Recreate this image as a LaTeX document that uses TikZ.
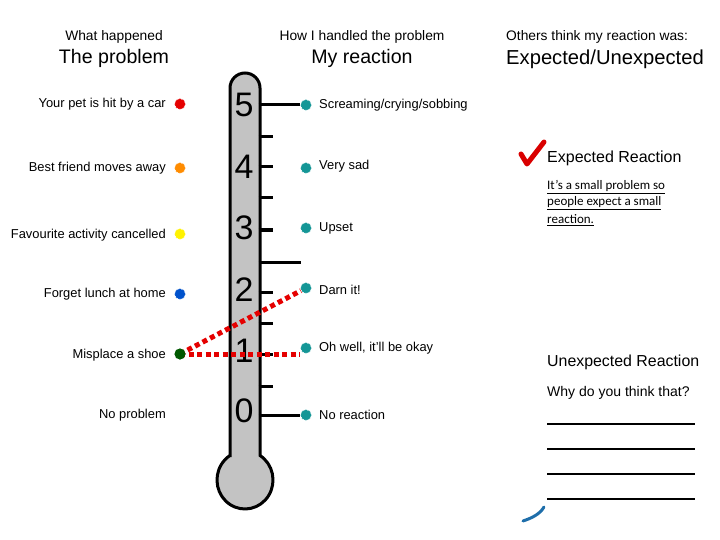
\documentclass[tikz,border=0pt]{standalone}
\usepackage{fontspec}
\setmainfont{Liberation Sans}
\newfontfamily\calib{Carlito}
\begin{document}
\begin{tikzpicture}[x=1pt,y=-1pt,
  lbl/.style={inner sep=0pt,font=\fontsize{12.9}{15}\selectfont},
  hsmall/.style={inner sep=0pt,font=\fontsize{13.8}{16}\selectfont},
  hbig/.style={inner sep=0pt,font=\fontsize{19.6}{22}\selectfont},
  num/.style={inner sep=0pt,font=\fontsize{34}{37}\selectfont},
  pdot/.style={circle,inner sep=0pt,minimum size=11pt,draw=white,line width=0.6pt,densely dotted},
  tick/.style={line width=3pt},
  reddots/.style={draw=red!90!black,line width=5pt,dash pattern=on 5pt off 3.5pt},
  wline/.style={line width=1.2pt}]
\useasboundingbox (0,0) rectangle (720,540);
\definecolor{tealdot}{RGB}{20,150,150}
\definecolor{greydark}{RGB}{195,195,195}
\tikzset{tdot/.style={pdot,fill=tealdot}}
% headers
\node[hsmall] (h1) at (114,37) {What happened};
\node[hbig] (h2) at (114,58) {The problem};
\node[hsmall] (h3) at (362,37) {How I handled the problem};
\node[hbig] (h4) at (362,58) {My reaction};
\node[hsmall,anchor=west] (h5) at (506,37) {Others think my reaction was:};
\node[hbig,anchor=west,font=\fontsize{20.2}{23}\selectfont] (h6) at (506,59) {Expected/Unexpected};
% thermometer
\draw[line width=3pt,fill=greydark] (230,455.5) -- (230,88)
  arc[start angle=180,end angle=360,radius=15] -- (260,455.5)
  arc[start angle=-57.6,end angle=237.6,x radius=28,y radius=29] -- cycle;
% ticks
\foreach \y/\l in {137/273,167/273,198/273,230/273,262/301,292/273,323/273,354/273,386/273}
  \draw[tick] (258.5,\y) -- (\l,\y);
% numerals
\node[num] (n5) at (244,105) {5};
\node[num] (n4) at (244,167) {4};
\node[num] (n3) at (244,228) {3};
\node[num] (n2) at (244,290) {2};
\node[num] (n1) at (244,351) {1};
\node[num] (n0) at (244,411) {0};
\coordinate (t5) at (258.5,105);
\coordinate (t0) at (258.5,415);
% problem labels and dots
\node[lbl,anchor=east] (a5) at (166,104.5) {Your pet is hit by a car};
\node[lbl,anchor=east] (a4) at (166,168.5) {Best friend moves away};
\node[lbl,anchor=east] (a3) at (166,235.5) {Favourite activity cancelled};
\node[lbl,anchor=east] (a2) at (166,294.5) {Forget lunch at home};
\node[lbl,anchor=east] (a1) at (166,355.5) {Misplace a shoe};
\node[lbl,anchor=east] (a0) at (166,415.5) {No problem};
\node[pdot,fill=red!90!black] (p5) at (180,104) {};
\node[pdot,fill=orange!90!yellow] (p4) at (180,168) {};
\node[pdot,fill=yellow] (p3) at (180,234) {};
\node[pdot,fill=blue!60!cyan!80!black] (p2) at (180,294) {};
\node[pdot,fill=green!35!black] (p1) at (180,354) {};
% reaction dots and labels
\node[tdot] (r5) at (306,105) {};
\node[tdot] (r4) at (306,168) {};
\node[tdot] (r3) at (306,228) {};
\node[tdot] (r2) at (306,288) {};
\node[tdot] (r1) at (306,348) {};
\node[tdot] (r0) at (306,415) {};
\draw[tick] (t5) -- (r5);
\draw[tick] (t0) -- (r0);
\node[lbl,anchor=west] (b5) at (319,105.5) {Screaming/crying/sobbing};
\node[lbl,anchor=west] (b4) at (319,166.5) {Very sad};
\node[lbl,anchor=west] (b3) at (319,228.5) {Upset};
\node[lbl,anchor=west] (b2) at (319,289.5) {Darn it!};
\node[lbl,anchor=west] (b1) at (319,348.5) {Oh well, it'll be okay};
\node[lbl,anchor=west] (b0) at (319,414.5) {No reaction};
% red dotted connectors
\coordinate (e1) at (300,354);
\draw[reddots] (p1.center) -- (r2);
\draw[reddots] (p1.center) -- (e1);
\node[pdot,fill=green!35!black,draw=none] (p1b) at (180,354) {};
% right column
\draw[red!85!black,line width=5pt,line cap=round,line join=round] (521,154) -- (527,164) -- (544,142);
\node[lbl,anchor=west,font=\fontsize{16}{18}\selectfont] (c1) at (547,158) {Expected Reaction};
\node[inner sep=0pt,anchor=west,font=\calib\fontsize{13}{15}\selectfont] (c2) at (547,187) {\underline{It’s a small problem so}};
\node[inner sep=0pt,anchor=west,font=\calib\fontsize{13}{15}\selectfont] (c3) at (547,203) {\underline{people expect a small}};
\node[inner sep=0pt,anchor=west,font=\calib\fontsize{13}{15}\selectfont] (c4) at (547,220) {\underline{reaction.}};
\node[lbl,anchor=west,font=\fontsize{15.9}{18}\selectfont] (c5) at (547,362) {Unexpected Reaction};
\node[lbl,anchor=west,font=\fontsize{14}{16}\selectfont] (c6) at (547,393) {Why do you think that?};
\foreach \y in {424,449,474,499}
  \draw[wline] (547,\y) -- (695,\y);
\draw[line width=3pt,color={rgb,255:red,30;green,110;blue,170},line cap=round] (523,521) .. controls (532,518) and (540,514) .. (544,507);
\end{tikzpicture}
\end{document}
